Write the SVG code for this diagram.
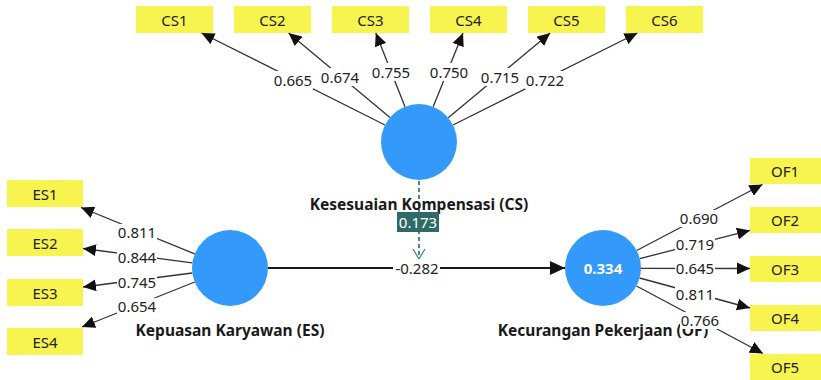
<svg xmlns="http://www.w3.org/2000/svg" width="821" height="380" viewBox="0 0 821 380">
  <style>
    .ind rect { fill: #f7f34f; }
    .ind text { font: 15px "Noto Sans", "Open Sans", sans-serif; fill: #222; text-anchor: middle; dominant-baseline: central; }
    .lat circle { fill: #3399fb; }
    .lat text.name { font: bold 15.5px "Noto Sans", "Open Sans", sans-serif; fill: #1a1a1a; text-anchor: middle; dominant-baseline: central; }
    .lat text.r2 { font: bold 15px "Noto Sans", "Open Sans", sans-serif; fill: #fff; text-anchor: middle; dominant-baseline: central; }
    .load { stroke: #333; stroke-width: 1.3; fill: none; marker-end: url(#ah); }
    .lbl rect { fill: #fff; }
    .lbl text { font: 15px "Noto Sans", "Open Sans", sans-serif; fill: #222; text-anchor: middle; dominant-baseline: central; }
  </style>
  <defs>
    <marker id="ah" markerUnits="userSpaceOnUse" markerWidth="14" markerHeight="12" refX="13" refY="6" orient="auto">
      <path d="M0,0 L13,6 L0,12 Z" fill="#111"/>
    </marker>
    <marker id="ah2" markerUnits="userSpaceOnUse" markerWidth="16" markerHeight="14" refX="15" refY="7" orient="auto">
      <path d="M0,0 L15,7 L0,14 Z" fill="#111"/>
    </marker>
    <marker id="ahOpen" markerUnits="userSpaceOnUse" markerWidth="14" markerHeight="14" refX="11" refY="7" orient="auto">
      <path d="M1,1 L11,7 L1,13" fill="none" stroke="#4a8a86" stroke-width="1.3"/>
    </marker>
  </defs>

  <!-- indicators -->
  <g id="CS1" class="ind"><rect x="136" y="6" width="77" height="27"/><text x="174.5" y="19.5">CS1</text></g>
  <g id="CS2" class="ind"><rect x="234" y="6" width="77" height="27"/><text x="272.5" y="19.5">CS2</text></g>
  <g id="CS3" class="ind"><rect x="332" y="6" width="77" height="27"/><text x="370.5" y="19.5">CS3</text></g>
  <g id="CS4" class="ind"><rect x="430" y="6" width="77" height="27"/><text x="468.5" y="19.5">CS4</text></g>
  <g id="CS5" class="ind"><rect x="528" y="6" width="77" height="27"/><text x="566.5" y="19.5">CS5</text></g>
  <g id="CS6" class="ind"><rect x="626" y="6" width="77" height="27"/><text x="664.5" y="19.5">CS6</text></g>

  <g id="ES1" class="ind"><rect x="7" y="180" width="76" height="27"/><text x="45" y="193.5">ES1</text></g>
  <g id="ES2" class="ind"><rect x="7" y="229" width="76" height="27"/><text x="45" y="242.5">ES2</text></g>
  <g id="ES3" class="ind"><rect x="7" y="279" width="76" height="27"/><text x="45" y="292.5">ES3</text></g>
  <g id="ES4" class="ind"><rect x="7" y="328" width="76" height="27"/><text x="45" y="341.5">ES4</text></g>

  <g id="OF1" class="ind"><rect x="750" y="158" width="77" height="26"/><text x="785" y="171">OF1</text></g>
  <g id="OF2" class="ind"><rect x="750" y="207" width="77" height="26"/><text x="785" y="220">OF2</text></g>
  <g id="OF3" class="ind"><rect x="750" y="256" width="77" height="26"/><text x="785" y="269">OF3</text></g>
  <g id="OF4" class="ind"><rect x="750" y="305" width="77" height="26"/><text x="785" y="318">OF4</text></g>
  <g id="OF5" class="ind"><rect x="750" y="354" width="77" height="26"/><text x="785" y="367">OF5</text></g>

  <!-- connectors -->
  <g id="connectors">
    <line class="load" x1="385" y1="125" x2="201.5" y2="33"/>
    <line class="load" x1="390" y1="117.6" x2="288.6" y2="33"/>
    <line class="load" x1="405" y1="106.7" x2="375.8" y2="33"/>
    <line class="load" x1="433.2" y1="106.8" x2="463" y2="33"/>
    <line class="load" x1="448.2" y1="117.7" x2="550.2" y2="33"/>
    <line class="load" x1="453" y1="125" x2="637.4" y2="33"/>

    <line class="load" x1="194.7" y1="253.8" x2="81" y2="207.5"/>
    <line class="load" x1="192.3" y1="262.8" x2="83" y2="248.5"/>
    <line class="load" x1="192.3" y1="273" x2="83" y2="287"/>
    <line class="load" x1="194.7" y1="282" x2="82" y2="327"/>

    <line class="load" x1="636.7" y1="250.5" x2="762.5" y2="184.5"/>
    <line class="load" x1="639.8" y1="258.6" x2="750" y2="230.4"/>
    <line class="load" x1="641" y1="268.3" x2="750" y2="268.5"/>
    <line class="load" x1="639.5" y1="278" x2="750" y2="308"/>
    <line class="load" x1="636.5" y1="286" x2="763" y2="353.5"/>

    <!-- structural path ES -> OF -->
    <line x1="268" y1="268" x2="565" y2="268" stroke="#1a1a1a" stroke-width="2.2" marker-end="url(#ah2)"/>
    <!-- moderating effect CS -> path -->
    <line x1="419" y1="181" x2="419" y2="259" stroke="#4a8a86" stroke-width="2" stroke-dasharray="4,3" marker-end="url(#ahOpen)"/>

    <!-- coefficient labels -->
    <g class="lbl">
      <rect x="273" y="71" width="40" height="18"/><text x="293" y="80">0.665</text>
      <rect x="320" y="68" width="40" height="18"/><text x="340" y="77">0.674</text>
      <rect x="371" y="63" width="40" height="18"/><text x="391" y="72">0.755</text>
      <rect x="429" y="63" width="40" height="18"/><text x="449" y="72">0.750</text>
      <rect x="480" y="68" width="40" height="18"/><text x="500" y="77">0.715</text>
      <rect x="525" y="71" width="40" height="18"/><text x="545" y="80">0.722</text>

      <rect x="117" y="224" width="40" height="17"/><text x="137" y="232">0.811</text>
      <rect x="117" y="249" width="40" height="17"/><text x="137" y="257">0.844</text>
      <rect x="117" y="274" width="40" height="17"/><text x="137" y="282">0.745</text>
      <rect x="117" y="298" width="40" height="17"/><text x="137" y="306">0.654</text>

      <rect x="679" y="210" width="40" height="17"/><text x="699" y="218">0.690</text>
      <rect x="675" y="236" width="40" height="17"/><text x="695" y="244">0.719</text>
      <rect x="675" y="260" width="40" height="17"/><text x="695" y="268">0.645</text>
      <rect x="675" y="286" width="40" height="17"/><text x="695" y="294">0.811</text>

      <rect x="393" y="259" width="47" height="18"/><text x="417" y="268">-0.282</text>
    </g>
  </g>

  <!-- latent variables -->
  <g id="CS" class="lat">
    <circle cx="419" cy="142" r="38"/>
    <text class="name" x="419" y="204">Kesesuaian Kompensasi (CS)</text>
  </g>
  <g id="moderation-label">
    <rect x="397" y="212" width="42" height="20" fill="#2f6b66"/>
    <text x="418" y="222" font-family="Noto Sans, Open Sans, sans-serif" font-size="15" fill="#fff" text-anchor="middle" dominant-baseline="central">0.173</text>
  </g>
  <g id="ES" class="lat">
    <circle cx="230" cy="268" r="38"/>
    <text class="name" x="230" y="330">Kepuasan Karyawan (ES)</text>
  </g>
  <g id="OF" class="lat">
    <circle cx="603" cy="268" r="38"/>
    <text class="r2" x="603" y="268">0.334</text>
    <text class="name" x="603" y="330">Kecurangan Pekerjaan (OF)</text>
  </g>
  <!-- loading label drawn over the OF name -->
  <g class="lbl">
    <rect x="680" y="312" width="40" height="17"/><text x="700" y="320">0.766</text>
  </g>
</svg>
